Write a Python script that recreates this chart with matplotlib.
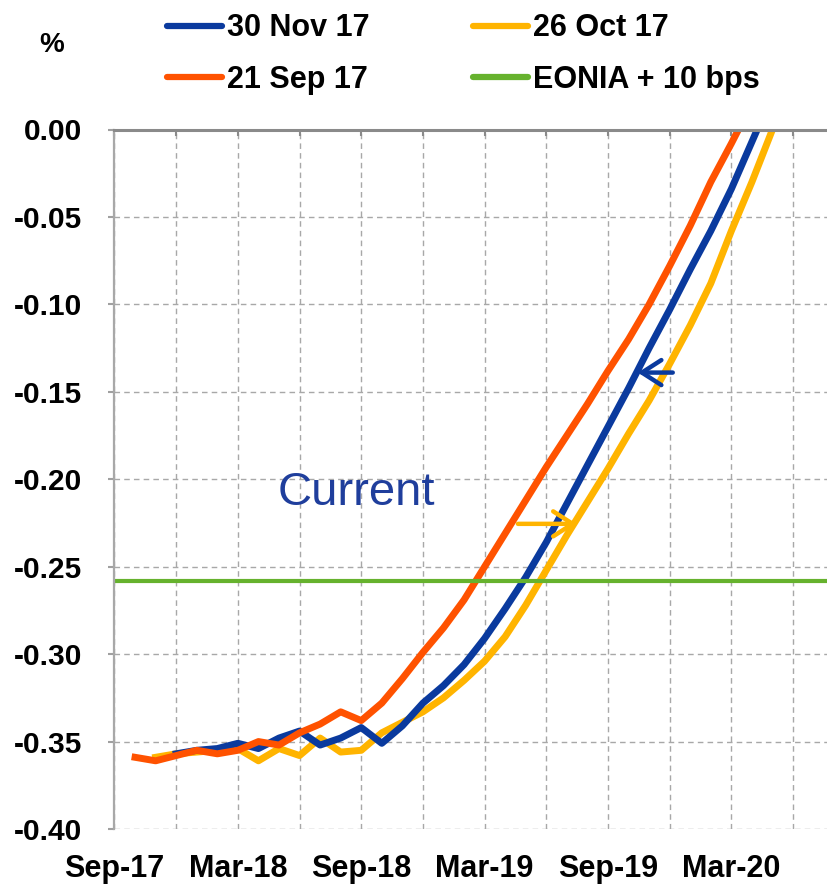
import matplotlib
matplotlib.use("Agg")
import matplotlib.pyplot as plt

plt.rcParams["font.family"] = ["Liberation Sans", "DejaVu Sans"]

# months counted from Sep-17
tick_months = list(range(0, 34, 3))
tick_labels = ["Sep-17", "", "Mar-18", "", "Sep-18", "", "Mar-19", "", "Sep-19", "", "Mar-20", ""]

nov_months = list(range(3, 33))
nov_values = [-0.357, -0.355, -0.354, -0.351, -0.354, -0.348, -0.344, -0.352, -0.348, -0.342,
              -0.351, -0.341, -0.328, -0.318, -0.306, -0.291, -0.274, -0.256, -0.236, -0.214,
              -0.192, -0.170, -0.148, -0.125, -0.103, -0.080, -0.058, -0.034, -0.007, 0.020]

oct_months = list(range(2, 34))
oct_values = [-0.359, -0.357, -0.356, -0.355, -0.354, -0.361, -0.354, -0.358, -0.348, -0.356,
              -0.355, -0.345, -0.339, -0.333, -0.325, -0.315, -0.304, -0.290, -0.272, -0.252,
              -0.232, -0.213, -0.194, -0.174, -0.155, -0.134, -0.112, -0.088, -0.058, -0.030,
              0.000, 0.030]

sep_months = list(range(1, 32))
sep_values = [-0.359, -0.361, -0.358, -0.355, -0.357, -0.355, -0.350, -0.352, -0.345, -0.340,
              -0.333, -0.338, -0.328, -0.314, -0.299, -0.285, -0.269, -0.250, -0.231, -0.212,
              -0.193, -0.175, -0.157, -0.138, -0.120, -0.100, -0.078, -0.055, -0.030, -0.008,
              0.015]

eonia_level = -0.258

blue = "#0A3A9E"
yellow = "#FFB400"
red = "#FF5200"
green = "#66B22E"

# annotation spots (month, value)
current_pos = (11.74, -0.208)
blue_arrow = ((27.15, -0.139), (25.45, -0.139))
yellow_arrow = ((19.62, -0.2255), (22.48, -0.2255))

fig = plt.figure(figsize=(8.28, 8.84), dpi=100)
ax = fig.add_axes([114.5 / 828, 55 / 884, (828 - 114.5) / 828, 699.5 / 884])

l_oct, = ax.plot(oct_months, oct_values, color=yellow, lw=5, label="26 Oct 17")
l_nov, = ax.plot(nov_months, nov_values, color=blue, lw=5, label="30 Nov 17")
l_sep, = ax.plot(sep_months, sep_values, color=red, lw=5, label="21 Sep 17")
l_eon = ax.axhline(eonia_level, color=green, lw=3, label="EONIA + 10 bps")

ax.set_xlim(0, 34.7)
ax.set_ylim(-0.40, 0.0)
ax.set_yticks([0, -0.05, -0.10, -0.15, -0.20, -0.25, -0.30, -0.35, -0.40])
ax.set_yticklabels(["0.00", "-0.05", "-0.10", "-0.15", "-0.20", "-0.25", "-0.30", "-0.35", "-0.40"])
ax.set_xticks(tick_months)
ax.set_xticklabels(tick_labels)

ax.grid(True, ls=(0, (4, 3)), color="#A8A8A8", lw=1.0)
ax.set_axisbelow(True)
for s in ["right", "bottom"]:
    ax.spines[s].set_visible(False)
ax.spines["left"].set_color("#A8A8A8")
ax.spines["left"].set_linewidth(1.6)
ax.spines["top"].set_color("#8A8A8A")
ax.spines["top"].set_linewidth(2.2)

ax.tick_params(axis="y", direction="out", length=4, width=1.5, color="#A0A0A0", pad=19,
               labelsize=21.5)
ax.tick_params(axis="x", top=True, bottom=False, direction="in", length=4, width=1.5,
               color="#8A8A8A", labelbottom=True, labeltop=False, pad=18, labelsize=22)
for t in ax.get_xticklabels() + ax.get_yticklabels():
    t.set_fontweight("bold")

ax.text(*current_pos, "Current", color="#1F3E9C", fontsize=34, ha="center", va="center")
for (tail, tip), col in [(blue_arrow, blue), (yellow_arrow, yellow)]:
    ax.annotate("", xy=tip, xytext=tail,
                arrowprops=dict(arrowstyle="->,head_length=0.7,head_width=0.45", lw=3.2,
                                color=col, mutation_scale=20, shrinkA=0, shrinkB=0))

fig.text(52 / 828, 1 - 45 / 884, "%", fontsize=20, fontweight="bold", ha="center", va="center")

leg = fig.legend([l_nov, l_sep, l_oct, l_eon], ["30 Nov 17", "21 Sep 17", "26 Oct 17", "EONIA + 10 bps"],
                 ncol=2, loc="center left", bbox_to_anchor=(167 / 828, 1 - 54 / 884),
                 frameon=False, borderpad=0, borderaxespad=0, handlelength=1.8,
                 handletextpad=0.15, columnspacing=3.4, labelspacing=0.7,
                 prop={"weight": "bold", "size": 22})
for h in leg.get_lines():
    h.set_solid_capstyle("round")
    h.set_linewidth(4.5)

fig.savefig("out.png", dpi=100)
